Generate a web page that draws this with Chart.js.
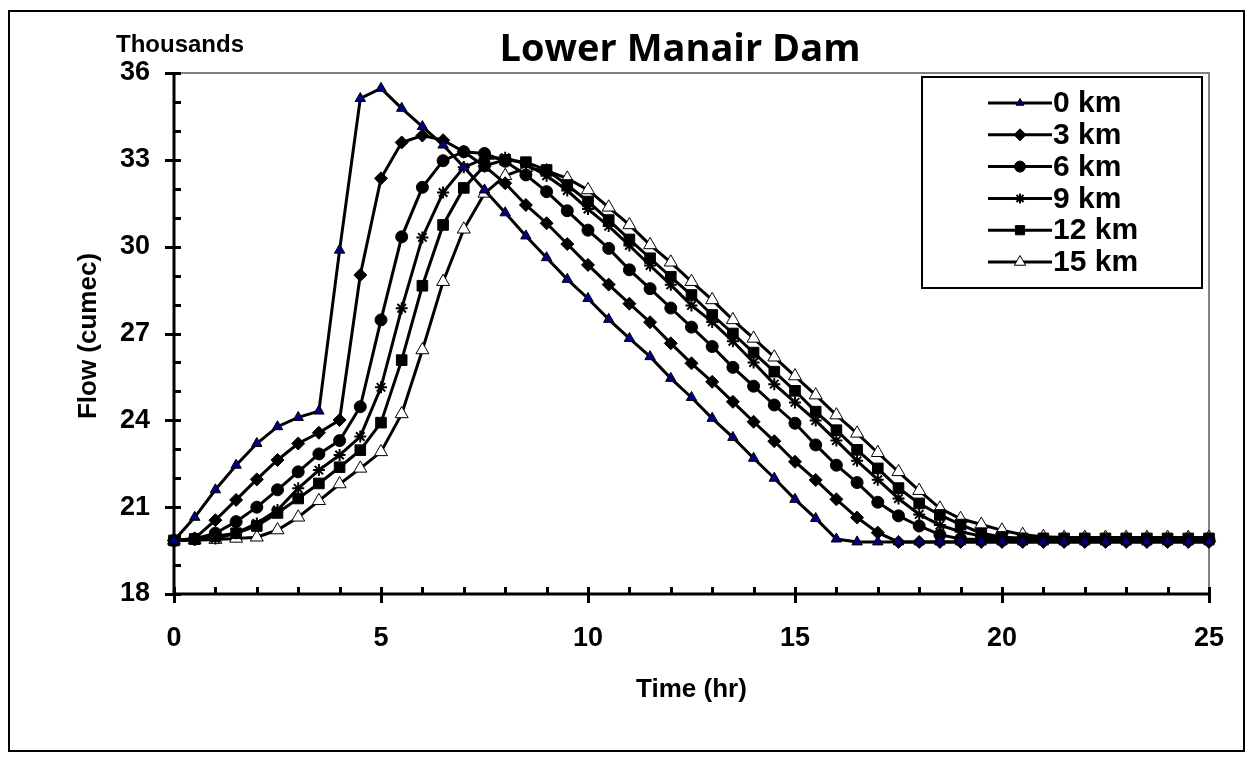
<!DOCTYPE html>
<html>
<head>
<meta charset="utf-8">
<title>Lower Manair Dam</title>
<script src="https://cdn.jsdelivr.net/npm/chart.js@4.4.1/dist/chart.umd.min.js"></script>
<style>
  html, body { margin: 0; padding: 0; background: #fff; }
  #wrap { width: 1252px; height: 760px; position: relative; }
</style>
</head>
<body>
<div id="wrap"><canvas id="damChart"></canvas></div>
<script>
// time in hours, flow in thousands of cumec
const times = [0, 0.5, 1, 1.5, 2, 2.5, 3, 3.5, 4, 4.5, 5, 5.5, 6, 6.5, 7, 7.5, 8, 8.5, 9, 9.5,
  10, 10.5, 11, 11.5, 12, 12.5, 13, 13.5, 14, 14.5, 15, 15.5, 16, 16.5, 17, 17.5, 18, 18.5, 19, 19.5,
  20, 20.5, 21, 21.5, 22, 22.5, 23, 23.5, 24, 24.5, 25];

const flow0km = [19.85, 20.65, 21.6, 22.45, 23.2, 23.78, 24.1, 24.32, 29.88, 35.12, 35.47, 34.78, 34.15, 33.51, 32.75, 31.96, 31.17, 30.37, 29.62, 28.87,
  28.21, 27.49, 26.83, 26.2, 25.45, 24.79, 24.07, 23.41, 22.69, 22.0, 21.27, 20.61, 19.9, 19.8, 19.8, 19.8, 19.8, 19.8, 19.8, 19.8,
  19.8, 19.8, 19.8, 19.8, 19.8, 19.8, 19.8, 19.8, 19.8, 19.8, 19.8];
const flow3km = [19.85, 19.92, 20.55, 21.25, 21.96, 22.63, 23.2, 23.57, 24.01, 29.02, 32.36, 33.6, 33.84, 33.68, 33.28, 32.78, 32.19, 31.44, 30.81, 30.09,
  29.37, 28.69, 28.03, 27.39, 26.66, 25.97, 25.33, 24.64, 23.95, 23.28, 22.57, 21.94, 21.27, 20.64, 20.12, 19.8, 19.8, 19.8, 19.8, 19.8,
  19.8, 19.8, 19.8, 19.8, 19.8, 19.8, 19.8, 19.8, 19.8, 19.8, 19.8];
const flow6km = [19.85, 19.9, 20.1, 20.5, 21.0, 21.6, 22.22, 22.84, 23.3, 24.47, 27.47, 30.34, 32.05, 32.97, 33.28, 33.22, 32.95, 32.48, 31.9, 31.24,
  30.57, 29.94, 29.2, 28.55, 27.88, 27.22, 26.55, 25.83, 25.18, 24.53, 23.9, 23.15, 22.45, 21.85, 21.17, 20.7, 20.35, 20.05, 19.9, 19.88,
  19.88, 19.88, 19.88, 19.88, 19.88, 19.88, 19.88, 19.88, 19.88, 19.88, 19.88];
const flow9km = [19.85, 19.87, 19.92, 20.1, 20.44, 20.9, 21.65, 22.28, 22.8, 23.44, 25.14, 27.87, 30.32, 31.87, 32.74, 33.05, 33.07, 32.85, 32.45, 31.94,
  31.3, 30.71, 30.04, 29.35, 28.68, 27.97, 27.4, 26.73, 26.0, 25.25, 24.62, 23.99, 23.3, 22.6, 21.95, 21.3, 20.75, 20.38, 20.15, 20.0,
  19.95, 19.92, 19.92, 19.92, 19.92, 19.92, 19.92, 19.92, 19.92, 19.92, 19.92];
const flow12km = [19.85, 19.9, 20.0, 20.1, 20.35, 20.8, 21.3, 21.82, 22.38, 22.97, 23.92, 26.08, 28.65, 30.75, 32.03, 32.79, 33.0, 32.92, 32.65, 32.13,
  31.56, 30.92, 30.25, 29.6, 28.96, 28.33, 27.64, 27.0, 26.34, 25.68, 25.02, 24.3, 23.66, 22.98, 22.34, 21.66, 21.13, 20.73, 20.4, 20.1,
  19.97, 19.92, 19.92, 19.92, 19.92, 19.92, 19.92, 19.92, 19.92, 19.92, 19.92];
const flow15km = [19.85, 19.86, 19.88, 19.92, 19.96, 20.21, 20.65, 21.22, 21.8, 22.34, 22.91, 24.22, 26.43, 28.79, 30.6, 31.84, 32.45, 32.72, 32.62, 32.36,
  31.96, 31.36, 30.75, 30.06, 29.46, 28.79, 28.16, 27.47, 26.83, 26.18, 25.53, 24.87, 24.18, 23.55, 22.88, 22.22, 21.57, 20.96, 20.6, 20.4,
  20.2, 20.05, 19.98, 19.95, 19.95, 19.95, 19.95, 19.95, 19.95, 19.95, 19.95];

const seriesNames = ['0 km', '3 km', '6 km', '9 km', '12 km', '15 km'];
const xTickValues = [0, 5, 10, 15, 20, 25];
const yTickValues = [18, 21, 24, 27, 30, 33, 36];

const FONT = '"Liberation Sans", Arial, sans-serif';

function toPoints(values) {
  return values.map((v, i) => ({ x: times[i], y: v }));
}

function series(label, values, style, fill, radius) {
  return {
    label,
    data: toPoints(values),
    borderColor: '#000',
    borderWidth: 3,
    tension: 0,
    pointStyle: style,
    pointRadius: radius,
    pointBackgroundColor: fill,
    pointBorderColor: '#000',
    pointBorderWidth: style === 'star' ? 2 : 1,
    clip: false
  };
}

// legend sample markers are a touch smaller than the plotted ones
const legendRadius = [4.5, 6, 5.5, 5, 6.5, 6.5];

const chartFrame = {
  id: 'chartFrame',
  beforeDatasetsDraw(chart) {
    const { ctx, chartArea: a, scales: { x, y } } = chart;
    ctx.save();
    // grey plot area edges
    ctx.strokeStyle = '#808080';
    ctx.lineWidth = 2;
    ctx.beginPath();
    ctx.moveTo(a.left, a.top);
    ctx.lineTo(a.right, a.top);
    ctx.lineTo(a.right, a.bottom);
    ctx.stroke();

    // axes
    ctx.strokeStyle = '#000';
    ctx.lineWidth = 3;
    ctx.beginPath();
    ctx.moveTo(a.left, a.top);
    ctx.lineTo(a.left, a.bottom);
    ctx.lineTo(a.right, a.bottom);
    ctx.stroke();

    // y ticks: minor every 1, major every 3
    ctx.beginPath();
    for (let v = y.min; v <= y.max; v++) {
      const py = Math.round(y.getPixelForValue(v)) + 0.5;
      const major = yTickValues.includes(v);
      ctx.moveTo(a.left - (major ? 9 : 0), py);
      ctx.lineTo(a.left + 7, py);
    }
    // x ticks: minor every hour, major every 5
    for (let v = x.min; v <= x.max; v++) {
      const px = Math.round(x.getPixelForValue(v)) + 0.5;
      const major = xTickValues.includes(v);
      ctx.moveTo(px, a.bottom - 7);
      ctx.lineTo(px, a.bottom + (major ? 9 : 0));
    }
    ctx.stroke();
    ctx.restore();
  },
  afterDraw(chart) {
    const { ctx, chartArea: a } = chart;
    ctx.save();
    // outer border
    ctx.strokeStyle = '#000';
    ctx.lineWidth = 2;
    ctx.strokeRect(9, 11, 1235, 740);

    ctx.fillStyle = '#000';
    ctx.textBaseline = 'alphabetic';
    ctx.textAlign = 'center';
    ctx.font = 'bold 38px "Open Sans", Lato, sans-serif';
    ctx.fillText('Lower Manair Dam', 680, 61);

    ctx.font = 'bold 24px ' + FONT;
    ctx.fillText('Thousands', 180, 52);

    ctx.font = 'bold 26px ' + FONT;
    ctx.textBaseline = 'middle';
    ctx.fillText('Time (hr)', (a.left + a.right) / 2, 690);
    ctx.save();
    ctx.translate(89, 336);
    ctx.rotate(-Math.PI / 2);
    ctx.fillText('Flow (cumec)', 0, 0);
    ctx.restore();

    // legend
    const bx = 922, by = 77, bw = 280, bh = 211;
    ctx.fillStyle = '#fff';
    ctx.fillRect(bx, by, bw, bh);
    ctx.strokeStyle = '#000';
    ctx.lineWidth = 2;
    ctx.strokeRect(bx, by, bw, bh);
    ctx.font = 'bold 30px ' + FONT;
    ctx.textAlign = 'left';
    chart.data.datasets.forEach((ds, i) => {
      const ly = 103 + i * 31.8;
      ctx.strokeStyle = '#000';
      ctx.lineWidth = 3;
      ctx.beginPath();
      ctx.moveTo(988, ly);
      ctx.lineTo(1052, ly);
      ctx.stroke();
      ctx.fillStyle = ds.pointBackgroundColor;
      ctx.lineWidth = ds.pointBorderWidth;
      Chart.helpers.drawPoint(ctx, {
        pointStyle: ds.pointStyle, radius: legendRadius[i], rotation: 0, borderWidth: ds.pointBorderWidth
      }, 1020, ly);
      ctx.fillStyle = '#000';
      ctx.fillText(ds.label, 1053, ly + 1);
    });
    ctx.restore();
  }
};

new Chart(document.getElementById('damChart'), {
  type: 'line',
  data: {
    datasets: [
      series(seriesNames[0], flow0km, 'triangle', '#000080', 6),
      series(seriesNames[1], flow3km, 'rectRot', '#000', 6.5),
      series(seriesNames[2], flow6km, 'circle', '#000', 6),
      series(seriesNames[3], flow9km, 'star', '#000', 6),
      series(seriesNames[4], flow12km, 'rect', '#000', 7.5),
      series(seriesNames[5], flow15km, 'triangle', '#fff', 7.5)
    ]
  },
  options: {
    responsive: true,
    maintainAspectRatio: false,
    animation: false,
    layout: { padding: { top: 73, right: 42, left: 0, bottom: 0 } },
    plugins: { legend: { display: false }, tooltip: { enabled: false } },
    scales: {
      x: {
        type: 'linear',
        min: 0,
        max: 25,
        afterBuildTicks: (s) => { s.ticks = xTickValues.map((v) => ({ value: v })); },
        afterFit: (s) => { s.height = 166; },
        grid: { display: false, drawTicks: false, tickLength: 0 },
        border: { display: false },
        ticks: { color: '#000', padding: 28, maxRotation: 0, autoSkip: false, font: { family: FONT, size: 27, weight: 'bold' } }
      },
      y: {
        min: 18,
        max: 36,
        afterBuildTicks: (s) => { s.ticks = yTickValues.map((v) => ({ value: v })); },
        afterFit: (s) => { s.width = 174; },
        grid: { display: false, drawTicks: false, tickLength: 0 },
        border: { display: false },
        ticks: { color: '#000', padding: 24, autoSkip: false, font: { family: FONT, size: 27, weight: 'bold' } }
      }
    }
  },
  plugins: [chartFrame]
});
</script>
</body>
</html>
